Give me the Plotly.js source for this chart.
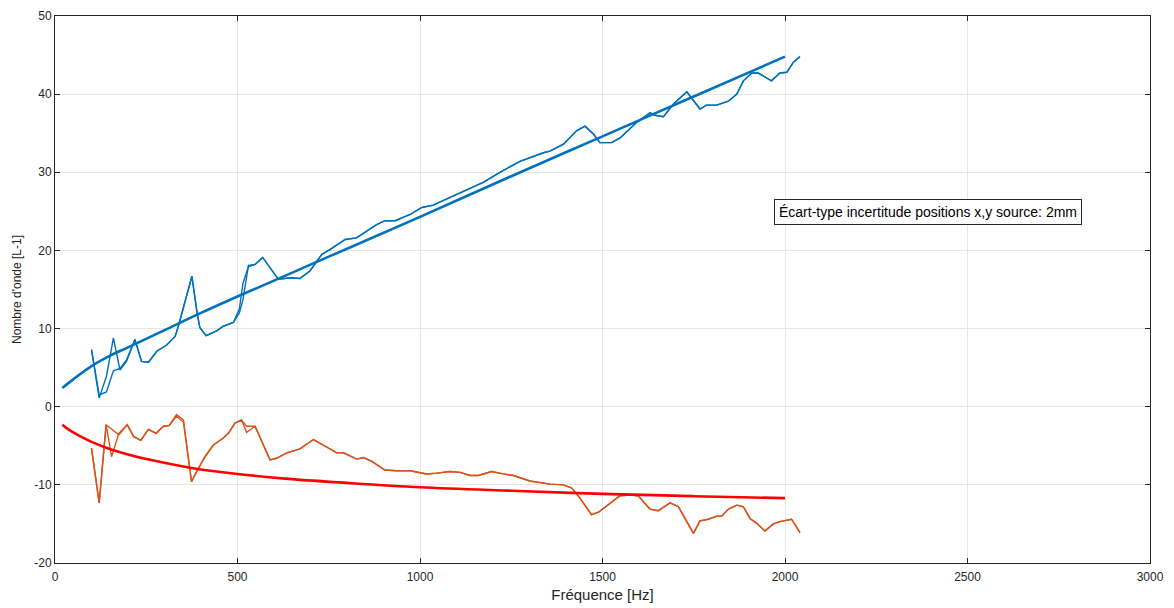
<!DOCTYPE html>
<html>
<head>
<meta charset="utf-8">
<script src="https://cdn.plot.ly/plotly-3.0.1.min.js"></script>
<style>
  html, body { margin: 0; padding: 0; background: #fff; }
  #chart { width: 1174px; height: 608px; }
</style>
</head>
<body>
<div id="chart"></div>
<script>
// ---- Data ----
// Measured wavenumber, real part (two overlapping runs)
const freqBlue = [100,121,141,160,178,196,219,237,256,279,306,329,338,375,390,397,414,443,461,489,505,515,530,548,569,612,644,671,699,731,753,795,826,881,904,932,973,1005,1036,1082,1119,1173,1219,1274,1338,1356,1393,1429,1452,1475,1493,1525,1548,1594,1630,1644,1667,1694,1731,1767,1785,1813,1845,1868,1886,1909,1927,1963,1986,2005,2023,2041];
const blueRunA = [7.3,1.1,3.9,8.8,4.7,5.8,8.6,5.8,5.7,7.1,7.9,9.0,10.3,16.7,11.8,10.1,9.1,9.7,10.3,10.8,12.0,13.7,18.1,18.2,19.1,16.3,16.5,16.4,17.4,19.5,20.1,21.4,21.6,23.3,23.8,23.8,24.6,25.5,25.8,26.8,27.6,28.7,30.0,31.4,32.5,32.7,33.6,35.3,35.9,34.9,33.8,33.8,34.4,36.4,37.6,37.3,37.1,38.7,40.3,38.1,38.6,38.6,39.1,40.0,41.7,42.7,42.7,41.7,42.7,42.8,44.1,44.8];
const blueRunB = [7.3,1.5,1.9,4.6,4.9,6.0,8.6,5.8,5.7,7.1,7.9,9.0,10.3,16.7,11.8,10.1,9.1,9.7,10.3,10.8,12.5,15.8,17.9,18.2,19.1,16.3,16.5,16.4,17.4,19.5,20.1,21.4,21.6,23.3,23.8,23.8,24.6,25.5,25.8,26.8,27.6,28.7,30.0,31.4,32.5,32.7,33.6,35.3,35.9,34.9,33.8,33.8,34.4,36.4,37.6,37.3,37.1,38.7,40.3,38.1,38.6,38.6,39.1,40.0,41.7,42.7,42.7,41.7,42.7,42.8,44.1,44.8];

// Measured wavenumber, imaginary part (two overlapping runs)
const freqOrange = [100,121,140,155,175,198,215,235,256,277,297,313,333,352,374,388,411,434,461,475,493,511,525,548,589,607,635,671,708,735,772,790,827,845,868,904,936,973,1018,1046,1082,1110,1137,1160,1196,1228,1256,1301,1338,1356,1393,1416,1438,1470,1489,1521,1548,1575,1598,1630,1653,1685,1708,1726,1749,1767,1790,1813,1827,1845,1868,1886,1904,1922,1945,1968,1986,2018,2041];
const orangeRunA = [-5.3,-12.3,-2.3,-2.9,-3.6,-2.3,-3.8,-4.3,-2.9,-3.4,-2.5,-2.4,-1.0,-1.7,-9.6,-8.3,-6.4,-4.9,-4.0,-3.4,-2.1,-1.7,-2.5,-2.5,-6.8,-6.6,-5.9,-5.4,-4.2,-4.9,-5.9,-5.9,-6.7,-6.5,-7.0,-8.1,-8.2,-8.2,-8.6,-8.5,-8.3,-8.4,-8.8,-8.8,-8.3,-8.6,-8.8,-9.5,-9.8,-9.9,-10.0,-10.4,-11.7,-13.8,-13.5,-12.3,-11.4,-11.3,-11.4,-13.1,-13.3,-12.3,-12.8,-14.3,-16.2,-14.6,-14.4,-14.0,-14.0,-13.1,-12.6,-12.8,-14.3,-14.9,-15.9,-15.0,-14.7,-14.4,-16.1];
const orangeRunB = [-5.3,-12.3,-2.3,-6.4,-3.4,-2.3,-3.8,-4.3,-2.9,-3.4,-2.5,-2.4,-1.2,-2.0,-9.6,-8.3,-6.4,-4.9,-4.0,-3.4,-2.1,-1.7,-3.3,-2.5,-6.8,-6.6,-5.9,-5.4,-4.2,-4.9,-5.9,-5.9,-6.7,-6.5,-7.0,-8.1,-8.2,-8.2,-8.6,-8.5,-8.3,-8.4,-8.8,-8.8,-8.3,-8.6,-8.8,-9.5,-9.8,-9.9,-10.0,-10.4,-11.7,-13.8,-13.5,-12.3,-11.4,-11.3,-11.4,-13.1,-13.3,-12.3,-12.8,-14.3,-16.2,-14.6,-14.4,-14.0,-14.0,-13.1,-12.6,-12.8,-14.3,-14.9,-15.9,-15.0,-14.7,-14.4,-16.1];

// Fitted curves
const freqFitBlue = [20,50,100,150,200,300,400,500,750,1000,1250,1500,1750,2000];
const fitBlue = [2.4,3.5,5.2,6.5,7.6,9.8,12.0,14.1,19.2,24.3,29.5,34.6,39.7,44.8];
const freqFitRed = [20,40,70,100,150,200,260,370,500,630,800,1000,1250,1500,1750,2000];
const fitRed = [-2.3,-3.0,-3.8,-4.5,-5.4,-6.1,-6.8,-7.8,-8.6,-9.2,-9.75,-10.3,-10.75,-11.15,-11.45,-11.7];

const xTicks = [0,500,1000,1500,2000,2500,3000];
const yTicks = [-20,-10,0,10,20,30,40,50];
const noteText = "Écart-type incertitude positions x,y source: 2mm";
const xTitle = "Fréquence [Hz]";
const yTitle = "Nombre d'onde [L-1]";

// ---- Traces ----
const BLUE = '#0072BD', ORANGE = '#D95319', RED = '#FF0000';
const traces = [
  {x: freqBlue, y: blueRunA, mode: 'lines', line: {color: BLUE, width: 1.4}},
  {x: freqBlue, y: blueRunB, mode: 'lines', line: {color: BLUE, width: 1.4}},
  {x: freqOrange, y: orangeRunA, mode: 'lines', line: {color: ORANGE, width: 1.4}},
  {x: freqOrange, y: orangeRunB, mode: 'lines', line: {color: ORANGE, width: 1.4}},
  {x: freqFitBlue, y: fitBlue, mode: 'lines', line: {color: BLUE, width: 2.6, shape: 'spline'}},
  {x: freqFitRed, y: fitRed, mode: 'lines', line: {color: RED, width: 2.6, shape: 'spline'}}
];

const axisCommon = {
  showline: true, linecolor: '#262626', linewidth: 1, mirror: 'allticks',
  ticks: 'inside', ticklen: 5, tickcolor: '#262626',
  showgrid: true, gridcolor: '#e6e6e6', gridwidth: 1, zeroline: false,
  tickfont: {family: 'Liberation Sans, Arial, sans-serif', size: 12, color: '#262626'}
};

const layout = {
  width: 1174, height: 608,
  margin: {l: 55, r: 24, t: 16, b: 45},
  paper_bgcolor: '#ffffff', plot_bgcolor: '#ffffff',
  showlegend: false,
  font: {family: 'Liberation Sans, Arial, sans-serif', color: '#262626'},
  xaxis: Object.assign({}, axisCommon, {
    range: [0, 3000], tickvals: xTicks, ticktext: xTicks.map(String),
    ticklabelstandoff: 3,
    title: {text: xTitle, font: {size: 15, color: '#262626'}, standoff: 6}
  }),
  yaxis: Object.assign({}, axisCommon, {
    range: [-20, 50], tickvals: yTicks, ticktext: yTicks.map(String),
    title: {text: yTitle, font: {size: 12, color: '#262626'}, standoff: 10}
  }),
  annotations: [{
    x: 2392, y: 24.9, xref: 'x', yref: 'y', text: noteText, showarrow: false,
    xanchor: 'center', yanchor: 'middle',
    font: {size: 14, color: '#000000', family: 'Liberation Sans, Arial, sans-serif'},
    bgcolor: '#ffffff', bordercolor: '#262626', borderwidth: 1, borderpad: 4
  }]
};

Plotly.newPlot('chart', traces, layout, {displayModeBar: false, staticPlot: true});
</script>
</body>
</html>
